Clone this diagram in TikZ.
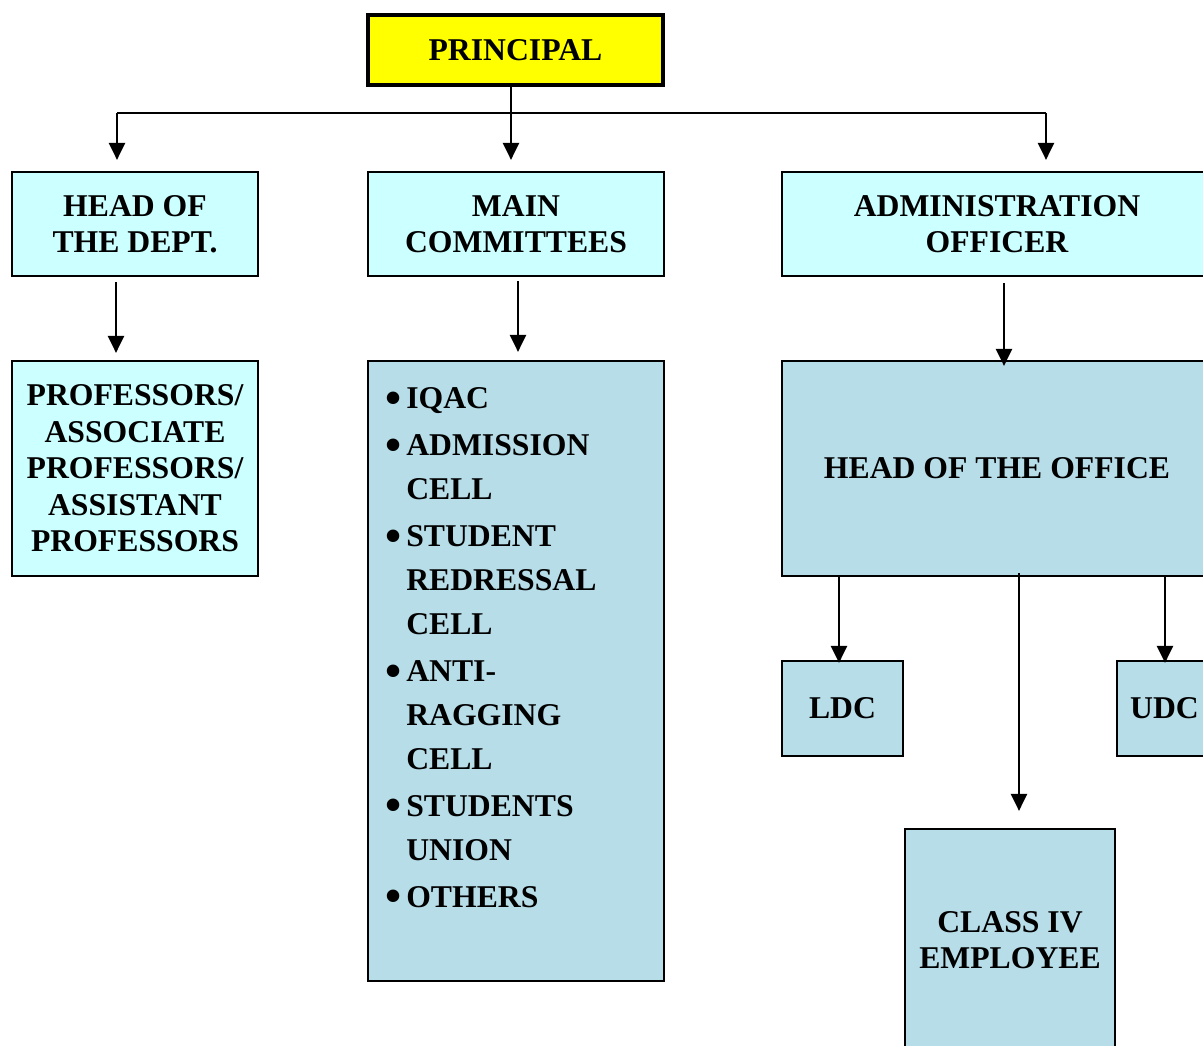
\documentclass[tikz,border=0pt]{standalone}
\usepackage{fontspec}
\usepackage{graphicx}
\setmainfont{Liberation Serif}
\usetikzlibrary{arrows.meta,calc}
\definecolor{yel}{HTML}{FFFF00}
\definecolor{lcyan}{HTML}{CCFFFF}
\definecolor{lblue}{HTML}{B7DDE8}
\newcommand\orgfont{\fontsize{31.7}{36.5}\selectfont\bfseries}
\newcommand\bigbul{\raisebox{-4.5pt}{\scalebox{1.45}{\textbullet}}}
\tikzset{
  box/.style={draw, line width=2.2pt, inner sep=0pt, align=center, font=\orgfont},
  conn/.style={line width=1.8pt},
  arr/.style={line width=2.3pt, -{Triangle[width=16pt,length=17pt]}},
}
\begin{document}
\begin{tikzpicture}[x=1pt,y=-1pt]
\clip (0,0) rectangle (1203,1046);
\fill[white] (0,0) rectangle (1203,1046);
% nodes
\node[box, line width=4pt, fill=yel, minimum width=295pt, minimum height=70pt] (principal) at (515.5,50) {PRINCIPAL};
\node[box, fill=lcyan, minimum width=246pt, minimum height=104pt] (hod) at (135,224) {HEAD OF\\THE DEPT.};
\node[box, fill=lcyan, minimum width=296pt, minimum height=104pt] (mc) at (516,224) {MAIN\\COMMITTEES};
\node[box, fill=lcyan, minimum width=430pt, minimum height=104pt] (adm) at (997,224) {ADMINISTRATION\\OFFICER};
\node[box, fill=lcyan, minimum width=246pt, minimum height=215pt] (prof) at (135,468.5) {PROFESSORS/\\ASSOCIATE\\PROFESSORS/\\ASSISTANT\\PROFESSORS};
\node[box, fill=lblue, minimum width=296pt, minimum height=620pt] (list) at (516,671) {};
\node[box, fill=lblue, minimum width=430pt, minimum height=215pt] (hoo) at (997,468.5) {HEAD OF THE OFFICE};
\node[box, fill=lblue, minimum width=121pt, minimum height=95pt] (ldc) at (842.5,708.5) {LDC};
\node[box, fill=lblue, minimum width=95pt, minimum height=95pt] (udc) at (1164.5,708.5) {UDC};
\node[box, fill=lblue, minimum width=210pt, minimum height=222pt] (c4) at (1010,940) {CLASS IV\\EMPLOYEE};
\node[anchor=base west, inner sep=0pt, font=\fontsize{31.7}{44}\selectfont\bfseries] (listtext) at (385,408.5)
{\begin{tabular}[t]{@{}l@{\hspace{5pt}}l@{}}
\bigbul & IQAC\\[3pt]
\bigbul & ADMISSION\\
 & CELL\\[3pt]
\bigbul & STUDENT\\
 & REDRESSAL\\
 & CELL\\[3pt]
\bigbul & ANTI-\\
 & RAGGING\\
 & CELL\\[3pt]
\bigbul & STUDENTS\\
 & UNION\\[3pt]
\bigbul & OTHERS
\end{tabular}};
% connectors
\coordinate (busL) at (117,113);
\coordinate (busR) at (1046,113);
\draw[conn] (busL) -- (busR);
\draw[arr] (busL) -- ($(hod.north)+(-18,-11)$);
\draw[arr] (busR) -- ($(adm.north)+(49,-11)$);
\draw[arr] ($(principal.south)+(-4.5,0)$) -- ($(mc.north)+(-5,-11)$);
\draw[arr] ($(hod.south)+(-19,5)$) -- ($(prof.north)+(-19,-7)$);
\draw[arr] ($(mc.south)+(2,4)$) -- ($(list.north)+(2,-8)$);
\draw[arr] ($(adm.south)+(7,6)$) -- ($(hoo.north)+(7,6)$);
\draw[arr] ($(hoo.south)+(-158,-2)$) -- ($(ldc.north)+(-3.5,3)$);
\draw[arr] ($(hoo.south)+(168,-2)$) -- ($(udc.north)+(0.5,3)$);
\draw[arr] ($(hoo.south)+(22,-4)$) -- ($(c4.north)+(9,-17)$);
\end{tikzpicture}
\end{document}
